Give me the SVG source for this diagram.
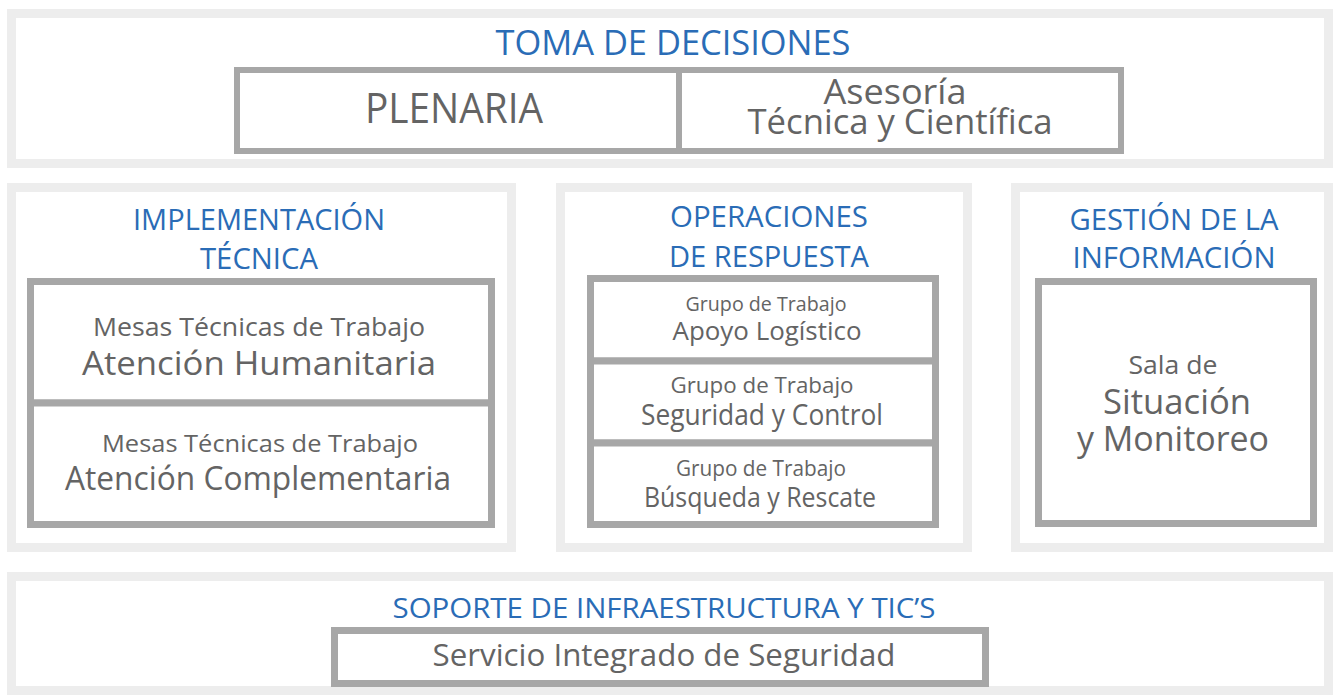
<svg xmlns="http://www.w3.org/2000/svg" width="1338" height="695" viewBox="0 0 1338 695">
<style>
.panel{fill:#ffffff;stroke:#ededed;stroke-width:9}
.box{fill:#ffffff;stroke:#a7a7a7;stroke-width:7}
.div{stroke:#a7a7a7;stroke-width:8}
text{font-family:"Open Sans","Liberation Sans",sans-serif;text-anchor:middle}
.h{fill:#2a6cb6}
.t{fill:#646464}
</style>
<rect width="1338" height="695" fill="#ffffff"/>

<g id="toma-de-decisiones">
<rect class="panel" x="11.5" y="13.5" width="1317" height="150"/>
<text class="h" x="673" y="55" font-size="34" textLength="355" lengthAdjust="spacingAndGlyphs">TOMA DE DECISIONES</text>
</g>
<g id="plenaria">
<rect class="box" x="237" y="70" width="442" height="81" style="stroke-width:6"/>
<text class="t" x="454" y="123" font-size="42" textLength="178" lengthAdjust="spacingAndGlyphs">PLENARIA</text>
</g>
<g id="asesoria">
<rect class="box" x="679" y="70" width="442" height="81" style="stroke-width:6"/>
<text class="t" x="895" y="104" font-size="34" textLength="143" lengthAdjust="spacingAndGlyphs">Asesoría</text>
<text class="t" x="900" y="134" font-size="34" textLength="305" lengthAdjust="spacingAndGlyphs">Técnica y Científica</text>
</g>

<g id="implementacion-tecnica">
<rect class="panel" x="11.5" y="187.5" width="500" height="360"/>
<text class="h" x="259" y="230" font-size="30" textLength="252" lengthAdjust="spacingAndGlyphs">IMPLEMENTACIÓN</text>
<text class="h" x="259" y="269" font-size="30" textLength="118" lengthAdjust="spacingAndGlyphs">TÉCNICA</text>
</g>
<g id="atencion-humanitaria">
<rect class="box" x="30.5" y="281.5" width="461" height="121.5"/>
<text class="t" x="259" y="336" font-size="25" textLength="332" lengthAdjust="spacingAndGlyphs">Mesas Técnicas de Trabajo</text>
<text class="t" x="259" y="375" font-size="32" textLength="354" lengthAdjust="spacingAndGlyphs">Atención Humanitaria</text>
</g>
<g id="atencion-complementaria">
<rect class="box" x="30.5" y="403" width="461" height="121.5"/>
<text class="t" x="260" y="452" font-size="24" textLength="316" lengthAdjust="spacingAndGlyphs">Mesas Técnicas de Trabajo</text>
<text class="t" x="258" y="490" font-size="32" textLength="386" lengthAdjust="spacingAndGlyphs">Atención Complementaria</text>
</g>

<g id="operaciones-de-respuesta">
<rect class="panel" x="560.5" y="187.5" width="407" height="360"/>
<text class="h" x="769" y="227" font-size="30" textLength="198" lengthAdjust="spacingAndGlyphs">OPERACIONES</text>
<text class="h" x="769" y="267" font-size="30" textLength="200" lengthAdjust="spacingAndGlyphs">DE RESPUESTA</text>
</g>
<g id="apoyo-logistico">
<rect class="box" x="590.5" y="278.5" width="345" height="82.5"/>
<text class="t" x="766" y="311" font-size="20" textLength="161" lengthAdjust="spacingAndGlyphs">Grupo de Trabajo</text>
<text class="t" x="767" y="340" font-size="26" textLength="189" lengthAdjust="spacingAndGlyphs">Apoyo Logístico</text>
</g>
<g id="seguridad-y-control">
<rect class="box" x="590.5" y="361" width="345" height="82"/>
<text class="t" x="762" y="393" font-size="22" textLength="183" lengthAdjust="spacingAndGlyphs">Grupo de Trabajo</text>
<text class="t" x="762" y="425" font-size="30" textLength="242" lengthAdjust="spacingAndGlyphs">Seguridad y Control</text>
</g>
<g id="busqueda-y-rescate">
<rect class="box" x="590.5" y="443" width="345" height="81.5"/>
<text class="t" x="761" y="476" font-size="21" textLength="170" lengthAdjust="spacingAndGlyphs">Grupo de Trabajo</text>
<text class="t" x="760" y="507" font-size="28" textLength="232" lengthAdjust="spacingAndGlyphs">Búsqueda y Rescate</text>
</g>

<g id="gestion-de-la-informacion">
<rect class="panel" x="1015.5" y="187.5" width="313" height="360"/>
<text class="h" x="1174" y="230" font-size="30" textLength="209" lengthAdjust="spacingAndGlyphs">GESTIÓN DE LA</text>
<text class="h" x="1174" y="268" font-size="30" textLength="203" lengthAdjust="spacingAndGlyphs">INFORMACIÓN</text>
</g>
<g id="sala-de-situacion">
<rect class="box" x="1038.5" y="281.5" width="275" height="242"/>
<text class="t" x="1173" y="374" font-size="26" textLength="89" lengthAdjust="spacingAndGlyphs">Sala de</text>
<text class="t" x="1177" y="414" font-size="34" textLength="148" lengthAdjust="spacingAndGlyphs">Situación</text>
<text class="t" x="1173" y="451" font-size="34" textLength="192" lengthAdjust="spacingAndGlyphs">y Monitoreo</text>
</g>

<g id="soporte-infraestructura">
<rect class="panel" x="11.5" y="576.5" width="1317" height="114"/>
<text class="h" x="664" y="618" font-size="28" textLength="543" lengthAdjust="spacingAndGlyphs">SOPORTE DE INFRAESTRUCTURA Y TIC’S</text>
</g>
<g id="servicio-integrado">
<rect class="box" x="334.5" y="630.5" width="651" height="53"/>
<text class="t" x="664" y="666" font-size="31" textLength="463" lengthAdjust="spacingAndGlyphs">Servicio Integrado de Seguridad</text>
</g>
<g id="connectors"/>
</svg>
